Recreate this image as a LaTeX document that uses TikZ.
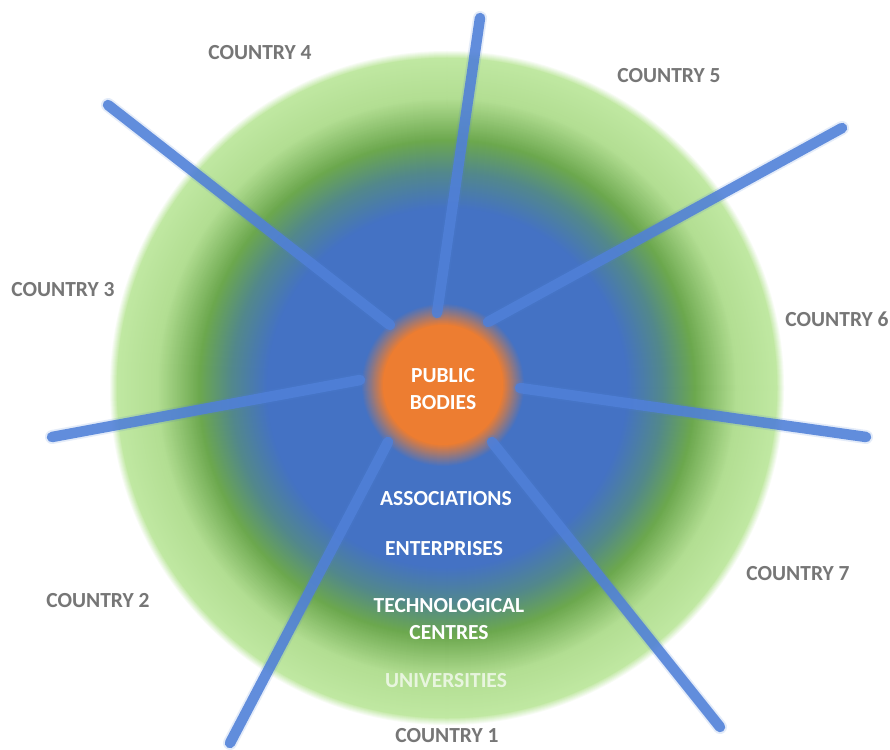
\documentclass[tikz,border=0pt]{standalone}
\usepackage{fontspec}
\setmainfont{Carlito}
\definecolor{cW}{RGB}{255,255,255}
\definecolor{cL}{RGB}{192,232,162}
\definecolor{cLb}{RGB}{178,222,146}
\definecolor{cM}{RGB}{108,168,78}
\definecolor{cT}{RGB}{82,136,140}
\definecolor{cB}{RGB}{68,114,196}
\definecolor{cO}{RGB}{237,125,49}
\definecolor{spk}{RGB}{80,128,216}
\definecolor{lbl}{RGB}{118,118,118}
\newcommand\gradring[5]{% center, r outer, r inner, colour outer, colour inner
  \pgfmathtruncatemacro\gnext{#2-1}%
  \foreach \r in {#2,\gnext,...,#3}{%
    \pgfmathtruncatemacro\gt{round((#2-\r)/(#2-#3)*100)}%
    \fill[#5!\gt!#4] #1 circle (\r pt);
  }}
\tikzset{
  spokecore/.style={draw=spk, line width=10.5pt, line cap=round, draw opacity=0.88},
  spokehalo/.style={draw=spk, line width=14pt, line cap=round, draw opacity=0.15},
  lab/.style={font=\fontsize{21.5}{27}\selectfont\bfseries, text=lbl, inner sep=0pt},
  inlab/.style={font=\fontsize{21.5}{27}\selectfont\bfseries, text=white, inner sep=0pt, align=center},
}
\begin{document}
\begin{tikzpicture}[x=1pt,y=-1pt]
\useasboundingbox (0,0) rectangle (890,749);
\fill[white] (0,0) rectangle (890,749);
% concentric gradient disc
\gradring{(447,388)}{338}{330}{cW}{cL}
\gradring{(447,388)}{330}{290}{cL}{cLb}
\gradring{(447,388)}{290}{248}{cLb}{cM}
\gradring{(447,388)}{248}{216}{cM}{cT}
\gradring{(447,388)}{216}{180}{cT}{cB}
\fill[cB] (447,388) circle (180pt);
% orange hub
\gradring{(443,385)}{82}{60}{cB}{cO}
\fill[cO] (443,385) circle (60pt);
\node[inlab] (hub) at (443,389) {PUBLIC\\BODIES};
% spoke ends
\coordinate (a1) at (388,442); \coordinate (b1) at (230,743);
\coordinate (a2) at (360,380); \coordinate (b2) at (52,437);
\coordinate (a3) at (390,325); \coordinate (b3) at (108,105);
\coordinate (a4) at (437,313); \coordinate (b4) at (480,18);
\coordinate (a5) at (488,322); \coordinate (b5) at (842,128);
\coordinate (a6) at (520,388); \coordinate (b6) at (866,437);
\coordinate (a7) at (492,442); \coordinate (b7) at (720,727);
\foreach \i in {1,...,7}{
  \draw[spokehalo] (a\i) -- (b\i);
  \draw[spokecore] (a\i) -- (b\i);
}
% ring labels
\node[inlab] (assoc) at (446,499) {ASSOCIATIONS};
\node[inlab] (enter) at (444,549) {ENTERPRISES};
\node[inlab] (tech) at (449,619) {TECHNOLOGICAL\\CENTRES};
\node[inlab, text=white, text opacity=0.7] (univ) at (446,681) {UNIVERSITIES};
% country labels
\node[lab] (c1) at (447,736) {COUNTRY 1};
\node[lab] (c2) at (98,601) {COUNTRY 2};
\node[lab] (c3) at (63,290) {COUNTRY 3};
\node[lab] (c4) at (260,53) {COUNTRY 4};
\node[lab] (c5) at (669,76) {COUNTRY 5};
\node[lab] (c6) at (837,319) {COUNTRY 6};
\node[lab] (c7) at (798,574) {COUNTRY 7};
\end{tikzpicture}
\end{document}
